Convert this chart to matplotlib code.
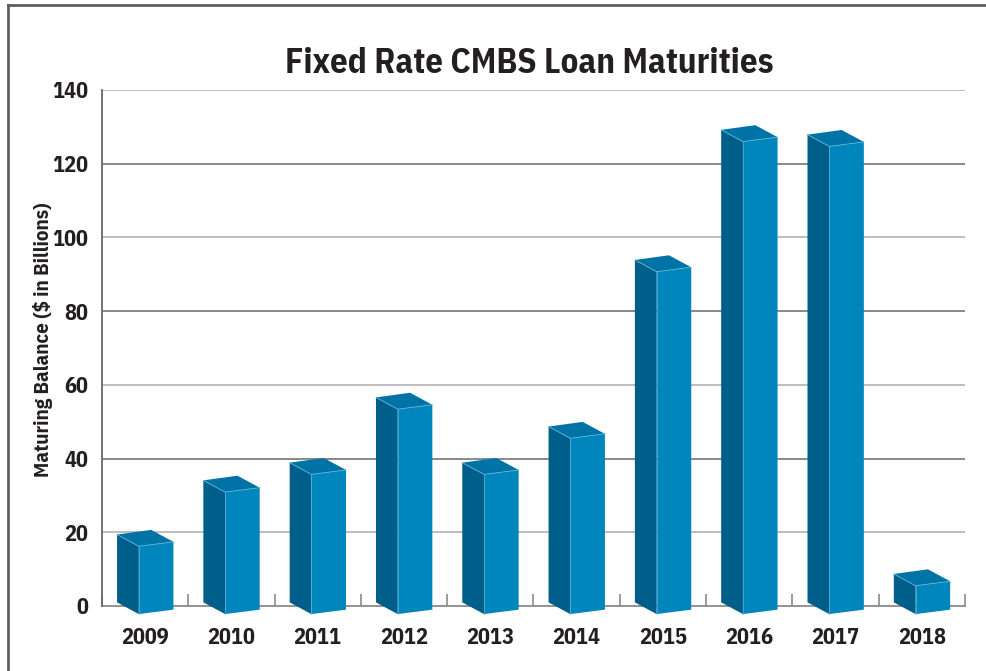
import numpy as np
import matplotlib.pyplot as plt
from matplotlib.patches import Polygon
from matplotlib.lines import Line2D

plt.rcParams['font.family'] = ['IBM Plex Sans Condensed', 'DejaVu Sans']

# data
years = ['2009', '2010', '2011', '2012', '2013', '2014', '2015', '2016', '2017', '2018']
balance = [18.4, 33.1, 37.9, 55.6, 37.9, 47.7, 92.9, 128.2, 126.9, 7.7]
yticks = [0, 20, 40, 60, 80, 100, 120, 140]

# 3d prism look: corners of the cross-section around the bar centre (x in slots, y in data units)
left_c = (-0.325, 0.98)
back_c = (0.07, 2.25)
right_c = (0.328, -1.0)
front_c = (-0.073, -2.2)

c_front = '#0085bd'
c_side = '#005f8a'
c_top = '#0073a6'
c_edge = '#5ab4dc'
c_text = '#231f20'

fig = plt.figure(figsize=(9.86, 6.71), dpi=100)
ax = fig.add_axes([0.1034, 0.0969, 0.8753, 0.769])

ax.set_xlim(-0.5, 9.5)
ax.set_ylim(0, 140)

# gridlines, alternating shades
for i, v in enumerate(yticks[1:]):
    col = '#b8b8b8' if i % 2 == 0 else '#808080'
    ax.axhline(v, color=col, lw=1.3, zorder=1)

def pt(x0, y0, c):
    return (x0 + c[0], y0 + c[1])

for i, v in enumerate(balance):
    lt, bk, rt, fr = pt(i, v, left_c), pt(i, v, back_c), pt(i, v, right_c), pt(i, v, front_c)
    lb, rb, fb = pt(i, 0, left_c), pt(i, 0, right_c), pt(i, 0, front_c)
    ax.add_patch(Polygon([lt, fr, fb, lb], closed=True, fc=c_side, ec='none', zorder=3, clip_on=False))
    ax.add_patch(Polygon([fr, rt, rb, fb], closed=True, fc=c_front, ec='none', zorder=3, clip_on=False))
    ax.add_patch(Polygon([lt, bk, rt, fr], closed=True, fc=c_top, ec='none', zorder=3, clip_on=False))
    ax.plot([lt[0], fr[0], rt[0]], [lt[1], fr[1], rt[1]], color=c_edge, lw=0.6, zorder=4, clip_on=False)
    ax.plot([fr[0], fb[0]], [fr[1], fb[1]], color=c_edge, lw=0.5, zorder=4, clip_on=False)

for s in ['top', 'right']:
    ax.spines[s].set_visible(False)
ax.spines['left'].set_color('#6a6a6a')
ax.spines['left'].set_linewidth(1.3)
ax.spines['bottom'].set_color('#8a8a8a')
ax.spines['bottom'].set_linewidth(1.3)
ax.spines['bottom'].set_zorder(2)

ax.set_yticks(yticks)
ax.set_yticklabels([str(t) for t in yticks])
ax.tick_params(axis='y', length=0, pad=10, labelsize=16, labelcolor=c_text)
for lab in ax.get_yticklabels():
    lab.set_fontweight('bold')

ax.set_xticks(range(len(years)))
ax.set_xticklabels(years)
ax.tick_params(axis='x', which='major', length=0, pad=15, labelsize=16, labelcolor=c_text)
for lab in ax.get_xticklabels():
    lab.set_fontweight('bold')
ax.set_xticks(np.arange(-0.5, 10, 1), minor=True)
ax.tick_params(axis='x', which='minor', direction='in', length=9, width=1.2, color='#8a8a8a')

ax.set_ylabel('Maturing Balance ($ in Billions)', fontsize=15, fontweight='bold', color=c_text)
ax.yaxis.set_label_coords(-0.057, 0.517)

fig.text(0.537, 0.906, 'Fixed Rate CMBS Loan Maturities', ha='center', va='center',
         fontsize=25, fontweight='bold', color=c_text)

# outer frame (left and top edges)
fig.add_artist(Line2D([8 / 986, 8 / 986], [0, 1 - 5 / 671], color='#5f5f5f', lw=2))
fig.add_artist(Line2D([8 / 986, 1], [1 - 5 / 671, 1 - 5 / 671], color='#5f5f5f', lw=2))

fig.savefig('out.png', dpi=100)
